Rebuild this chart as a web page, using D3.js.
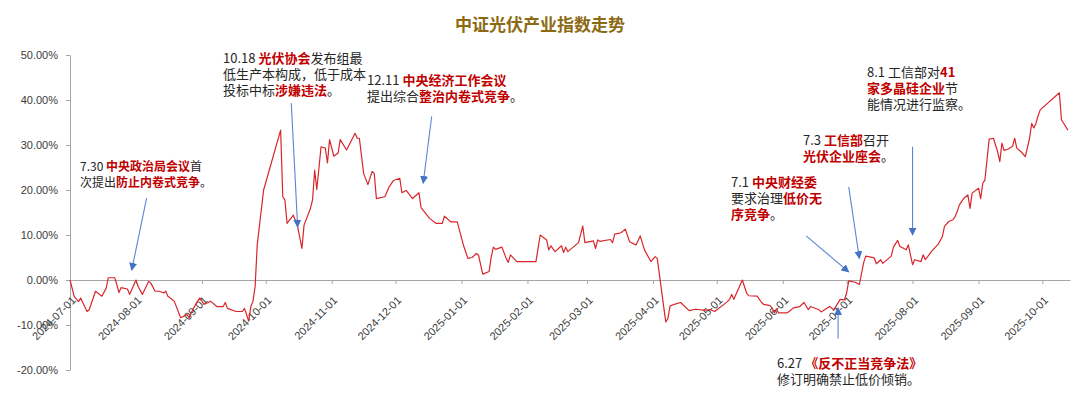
<!DOCTYPE html>
<html>
<head>
<meta charset="utf-8">
<script src="https://cdn.jsdelivr.net/npm/d3@7"></script>
<style>
  body { margin: 0; background: #fff; }
  svg { display: block; font-family: "Noto Sans CJK SC", "Noto Sans", sans-serif; }
  .axis text { font-family: "Liberation Sans", Arial, sans-serif; font-size: 11px; fill: #3a3a3a; }
  .axis path, .axis line { stroke: #a6a6a6; }
</style>
</head>
<body>
<div id="chart"></div>
<script>
// 中证光伏产业指数 cumulative change (%) vs 2024-07-01
var indexPoints = [
  ["2024-07-01",0.0],["2024-07-03",-3.7],["2024-07-05",-4.8],["2024-07-06",-4.0],["2024-07-09",-7.0],
  ["2024-07-10",-6.6],["2024-07-13",-2.5],["2024-07-16",-3.6],["2024-07-18",-1.8],["2024-07-19",0.5],
  ["2024-07-22",0.5],["2024-07-23",-1.0],["2024-07-24",-2.8],["2024-07-25",-1.7],["2024-07-28",-2.0],
  ["2024-07-29",-3.2],["2024-08-01",0.0],["2024-08-02",-1.4],["2024-08-04",-3.2],["2024-08-07",-0.3],
  ["2024-08-08",-0.7],["2024-08-10",-2.5],["2024-08-12",-2.5],["2024-08-14",-2.9],["2024-08-15",-2.5],
  ["2024-08-16",-3.6],["2024-08-19",-4.7],["2024-08-22",-8.4],["2024-08-25",-7.7],["2024-08-26",-8.4],
  ["2024-08-28",-6.3],["2024-08-30",-4.7],["2024-08-31",-4.0],["2024-09-02",-5.4],["2024-09-04",-5.0],
  ["2024-09-05",-4.7],["2024-09-08",-5.9],["2024-09-11",-5.9],["2024-09-12",-5.0],["2024-09-13",-6.3],
  ["2024-09-17",-7.0],["2024-09-20",-7.0],["2024-09-21",-6.3],["2024-09-23",-9.1],["2024-09-24",-5.9],
  ["2024-09-25",-4.7],["2024-09-26",-1.5],["2024-09-27",7.8],["2024-09-30",20.0],["2024-10-08",33.3],
  ["2024-10-09",18.5],["2024-10-10",17.8],["2024-10-11",12.6],["2024-10-14",14.4],["2024-10-16",11.8],
  ["2024-10-18",7.0],["2024-10-19",12.2],["2024-10-22",15.9],["2024-10-23",17.8],["2024-10-24",24.4],
  ["2024-10-25",20.1],["2024-10-27",29.6],["2024-10-29",29.3],["2024-10-30",26.0],["2024-10-31",31.2],
  ["2024-11-02",27.5],["2024-11-04",28.2],["2024-11-05",31.2],["2024-11-08",28.9],["2024-11-12",32.6],
  ["2024-11-13",31.5],["2024-11-14",31.5],["2024-11-16",23.7],["2024-11-18",21.2],["2024-11-20",24.1],
  ["2024-11-21",23.7],["2024-11-22",18.1],["2024-11-26",18.5],["2024-11-28",20.7],["2024-11-30",22.1],
  ["2024-12-03",22.6],["2024-12-04",19.4],["2024-12-06",19.9],["2024-12-09",18.1],["2024-12-12",19.4],
  ["2024-12-13",16.1],["2024-12-17",13.7],["2024-12-20",12.6],["2024-12-23",12.6],["2024-12-24",14.2],
  ["2024-12-27",12.9],["2024-12-30",12.9],["2025-01-02",7.6],["2025-01-04",4.8],["2025-01-06",5.0],
  ["2025-01-08",5.9],["2025-01-09",5.5],["2025-01-11",1.3],["2025-01-14",1.9],["2025-01-15",5.2],
  ["2025-01-16",7.3],["2025-01-17",6.8],["2025-01-20",7.3],["2025-01-22",4.8],["2025-01-23",3.9],
  ["2025-01-24",5.6],["2025-01-27",4.1],["2025-02-05",4.1],["2025-02-07",10.0],["2025-02-10",8.9],
  ["2025-02-11",6.7],["2025-02-12",7.6],["2025-02-14",6.3],["2025-02-17",7.6],["2025-02-18",6.1],
  ["2025-02-19",7.3],["2025-02-20",6.3],["2025-02-25",8.3],["2025-02-27",12.0],["2025-02-28",8.3],
  ["2025-03-04",8.7],["2025-03-05",7.0],["2025-03-06",8.9],["2025-03-07",8.6],["2025-03-12",9.0],
  ["2025-03-13",8.3],["2025-03-14",10.2],["2025-03-17",10.5],["2025-03-19",11.3],["2025-03-21",8.5],
  ["2025-03-24",7.8],["2025-03-26",9.8],["2025-03-28",6.7],["2025-03-31",4.1],["2025-04-02",5.2],
  ["2025-04-03",4.8],["2025-04-07",-9.3],["2025-04-08",-8.6],["2025-04-09",-5.8],["2025-04-11",-5.4],
  ["2025-04-14",-5.0],["2025-04-18",-6.8],["2025-04-21",-6.5],["2025-04-25",-6.7],["2025-04-28",-6.6],
  ["2025-04-30",-7.0],["2025-05-06",-4.8],["2025-05-07",-4.3],["2025-05-08",-3.2],["2025-05-09",-4.3],
  ["2025-05-13",0.0],["2025-05-15",-2.9],["2025-05-16",-3.5],["2025-05-20",-3.6],["2025-05-22",-5.0],
  ["2025-05-23",-5.4],["2025-05-26",-5.7],["2025-05-27",-6.2],["2025-05-28",-7.3],["2025-05-29",-6.4],
  ["2025-05-30",-7.3],["2025-06-03",-7.3],["2025-06-04",-7.0],["2025-06-06",-6.2],["2025-06-09",-5.9],
  ["2025-06-11",-5.0],["2025-06-13",-6.6],["2025-06-14",-5.9],["2025-06-18",-6.6],["2025-06-19",-7.1],
  ["2025-06-23",-5.9],["2025-06-25",-6.6],["2025-06-28",-4.3],["2025-06-30",-4.4],["2025-07-01",-2.9],
  ["2025-07-02",-0.2],["2025-07-05",-0.5],["2025-07-07",-1.0],["2025-07-09",3.8],["2025-07-10",5.3],
  ["2025-07-14",4.9],["2025-07-15",3.6],["2025-07-17",4.5],["2025-07-18",3.7],["2025-07-22",5.3],
  ["2025-07-23",7.3],["2025-07-25",8.8],["2025-07-26",7.5],["2025-07-29",6.7],["2025-07-30",7.8],
  ["2025-08-01",3.4],["2025-08-02",4.5],["2025-08-05",4.1],["2025-08-06",5.6],["2025-08-07",4.5],
  ["2025-08-10",6.4],["2025-08-13",7.9],["2025-08-15",9.6],["2025-08-16",11.9],["2025-08-18",13.0],
  ["2025-08-20",13.4],["2025-08-21",14.1],["2025-08-22",15.2],["2025-08-23",16.7],["2025-08-25",18.1],
  ["2025-08-27",18.9],["2025-08-28",15.9],["2025-08-29",19.3],["2025-09-01",20.4],["2025-09-02",18.1],
  ["2025-09-03",21.5],["2025-09-04",22.2],["2025-09-06",31.3],["2025-09-08",31.5],["2025-09-10",28.5],
  ["2025-09-11",26.3],["2025-09-12",30.4],["2025-09-13",28.8],["2025-09-15",29.1],["2025-09-17",29.7],
  ["2025-09-18",31.5],["2025-09-19",29.3],["2025-09-21",28.5],["2025-09-23",27.4],["2025-09-25",31.5],
  ["2025-09-26",34.8],["2025-09-27",33.8],["2025-09-28",34.8],["2025-09-29",36.5],["2025-09-30",37.8],
  ["2025-10-09",41.6],["2025-10-10",35.6],["2025-10-13",33.3]
];

var yTicks = [-20, -10, 0, 10, 20, 30, 40, 50];
var monthTicks = ["2024-07-01","2024-08-01","2024-09-01","2024-10-01","2024-11-01","2024-12-01",
  "2025-01-01","2025-02-01","2025-03-01","2025-04-01","2025-05-01","2025-06-01","2025-07-01",
  "2025-08-01","2025-09-01","2025-10-01"];
var xDomain = ["2024-07-01", "2025-10-14"];

// text runs: [text, isRed]; arrows go from [date, value] to [date, value]
var notes = [
  {x: 80, y: 170.5, size: 12, lines: [[["7.30 ",0],["中央政治局会议",1],["首",0]],
                            [["次提出",0],["防止内卷式竞争",1],["。",0]]],
   from: ["2024-08-06", 18.2], to: ["2024-07-30", 2.2]},
  {x: 223, y: 62.5, size: 13, lines: [[["10.18 ",0],["光伏协会",1],["发布组最",0]],
                          [["低生产本构成，低于成本",0]],
                          [["投标中标",0],["涉嫌违法",1],["。",0]]],
   from: ["2024-10-13", 39.3], to: ["2024-10-16", 11.8]},
  {x: 367, y: 85, size: 13, lines: [[["12.11 ",0],["中央经济工作会议",1]],
                            [["提出综合",0],["整治内卷式竞争",1],["。",0]]],
   from: ["2024-12-18", 36.4], to: ["2024-12-14", 21.5]},
  {x: 731, y: 186.5, size: 13, lines: [[["7.1 ",0],["中央财经委",1]],
                           [["要求治理",0],["低价无",1]],
                           [["序竞争",1],["。",0]]],
   from: ["2025-06-12", 9.8], to: ["2025-07-02", 1.8]},
  {x: 803, y: 145, size: 13, lines: [[["7.3 ",0],["工信部",1],["召开",0]],
                             [["光伏企业座会",1],["。",0]]],
   from: ["2025-07-02", 20.7], to: ["2025-07-07", 4.8]},
  {x: 867, y: 76.5, size: 13, lines: [[["8.1 工信部对",0],["41",1]],
                          [["家多晶硅企业",1],["节",0]],
                          [["能情况进行监察。",0]]],
   from: ["2025-08-01", 29.6], to: ["2025-08-01", 10.0]},
  {x: 777, y: 368, size: 13, lines: [[["6.27 ",0],["《反不正当竞争法》",1]],
                           [["修订明确禁止低价倾销。",0]]],
   from: ["2025-06-27", -13.0], to: ["2025-06-27", -6.2]}
];

var W = 1080, H = 399;
var parse = d3.utcParse("%Y-%m-%d");

var svg = d3.select("#chart").append("svg")
  .attr("width", W).attr("height", H);

svg.append("defs").append("marker")
  .attr("id", "arrow")
  .attr("viewBox", "0 0 10 10")
  .attr("refX", 9).attr("refY", 5)
  .attr("markerUnits", "userSpaceOnUse")
  .attr("markerWidth", 8).attr("markerHeight", 8)
  .attr("orient", "auto")
  .append("path")
  .attr("d", "M0,0L10,5L0,10z")
  .attr("fill", "#4472c4");

var x = d3.scaleUtc()
  .domain(xDomain.map(parse))
  .range([70, 1070]);
var y = d3.scaleLinear()
  .domain([-20, 50])
  .range([370, 55]);

// title
svg.append("text")
  .attr("x", 540).attr("y", 31)
  .attr("text-anchor", "middle")
  .attr("font-size", 17).attr("font-weight", "bold")
  .attr("fill", "#8c6a12")
  .text("中证光伏产业指数走势");

// y axis
svg.append("g")
  .attr("class", "axis")
  .attr("transform", "translate(70,0)")
  .call(d3.axisLeft(y).tickValues(yTicks).tickSize(4).tickSizeOuter(0).tickPadding(8)
    .tickFormat(function(d) { return d.toFixed(2) + "%"; }));

// x axis on the zero line
var xg = svg.append("g")
  .attr("class", "axis")
  .attr("transform", "translate(0," + y(0) + ")")
  .call(d3.axisBottom(x).tickValues(monthTicks.map(parse)).tickSize(4).tickSizeOuter(0)
    .tickFormat(d3.utcFormat("%Y-%m-%d")));
xg.selectAll(".tick text")
  .attr("text-anchor", "end")
  .attr("dy", null)
  .attr("y", 0)
  .attr("transform", "translate(6,21) rotate(-45)");

// index line
var line = d3.line()
  .x(function(d) { return x(parse(d[0])); })
  .y(function(d) { return y(d[1]); });

svg.append("path")
  .datum(indexPoints)
  .attr("fill", "none")
  .attr("stroke", "#d9262b")
  .attr("stroke-width", 1.2)
  .attr("stroke-linejoin", "round")
  .attr("d", line);

// annotations
notes.forEach(function(n) {
  svg.append("line")
    .attr("x1", x(parse(n.from[0]))).attr("y1", y(n.from[1]))
    .attr("x2", x(parse(n.to[0]))).attr("y2", y(n.to[1]))
    .attr("stroke", "#5b86d6")
    .attr("stroke-width", 1.1)
    .attr("marker-end", "url(#arrow)");

  var t = svg.append("text")
    .attr("x", n.x).attr("y", n.y)
    .attr("font-size", n.size);
  n.lines.forEach(function(runs, i) {
    runs.forEach(function(r, j) {
      var ts = t.append("tspan")
        .attr("fill", r[1] ? "#c00000" : "#262626")
        .attr("font-weight", r[1] ? "bold" : "normal")
        .text(r[0]);
      if (j === 0) ts.attr("x", n.x).attr("y", n.y + i * 16.2);
    });
  });
});
</script>
</body>
</html>
